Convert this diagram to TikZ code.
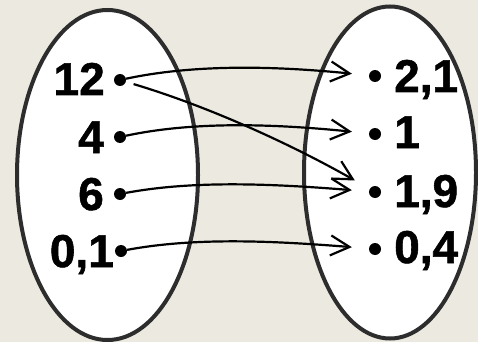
\documentclass[tikz,border=0pt]{standalone}
\usepackage{fontspec}
\setmainfont[BoldFeatures={FakeBold=1.2}]{Liberation Sans}
\usetikzlibrary{arrows.meta}
\definecolor{bg}{RGB}{236,234,224}
\definecolor{rim}{RGB}{45,45,45}
\begin{document}
\begin{tikzpicture}[x=1pt,y=-1pt,
  setrim/.style={draw=rim,line width=4pt,fill=white},
  lab/.style={inner sep=0pt,font=\fontsize{46}{46}\selectfont\bfseries},
  dot/.style={circle,fill=black,inner sep=0pt,minimum size=12pt},
  link/.style={line width=2.2pt,-{Straight Barb[length=19pt,width=20pt,line width=2.2pt]},shorten >=17pt}]
\fill[bg] (0,0) rectangle (478,342);
\useasboundingbox (0,0) rectangle (478,342);
\draw[setrim] (107.5,175) ellipse [x radius=90.5, y radius=165];
\draw[setrim] (390,172.5) ellipse [x radius=86, y radius=166];
% left
\node[lab,anchor=base east] (l12) at (105,95) {12};
\node[lab,anchor=base east] (l4) at (104,153) {4};
\node[lab,anchor=base east] (l6) at (104,210) {6};
\node[lab,anchor=base east] (l01) at (114,267) {0,1};
\node[dot] (d12) at (120,80) {};
\node[dot] (d4) at (120,137) {};
\node[dot] (d6) at (120,194) {};
\node[dot] (d01) at (121,251) {};
% right
\node[lab,anchor=base west] (r21) at (394,92) {2,1};
\node[lab,anchor=base west] (r1) at (394,148) {1};
\node[lab,anchor=base west] (r19) at (394,207) {1,9};
\node[lab,anchor=base west] (r04) at (394,263) {0,4};
\node[dot] (e21) at (375,76) {};
\node[dot] (e1) at (375,134) {};
\node[dot] (e19) at (375,192) {};
\node[dot] (e04) at (375,249) {};
% links
\draw[link] (d12) .. controls +(75,-16) and +(-100,-10) .. (e21);
\draw[link] (d4) .. controls +(75,-16) and +(-100,-10) .. (e1);
\draw[link] (d6) .. controls +(75,-14) and +(-100,-8) .. (e19);
\draw[link] (d01) .. controls +(75,-14) and +(-100,-8) .. (e04);
\draw[link,shorten <=8pt] (d12) .. controls +(100,30) and +(-70,-40) .. (e19);
\end{tikzpicture}
\end{document}
